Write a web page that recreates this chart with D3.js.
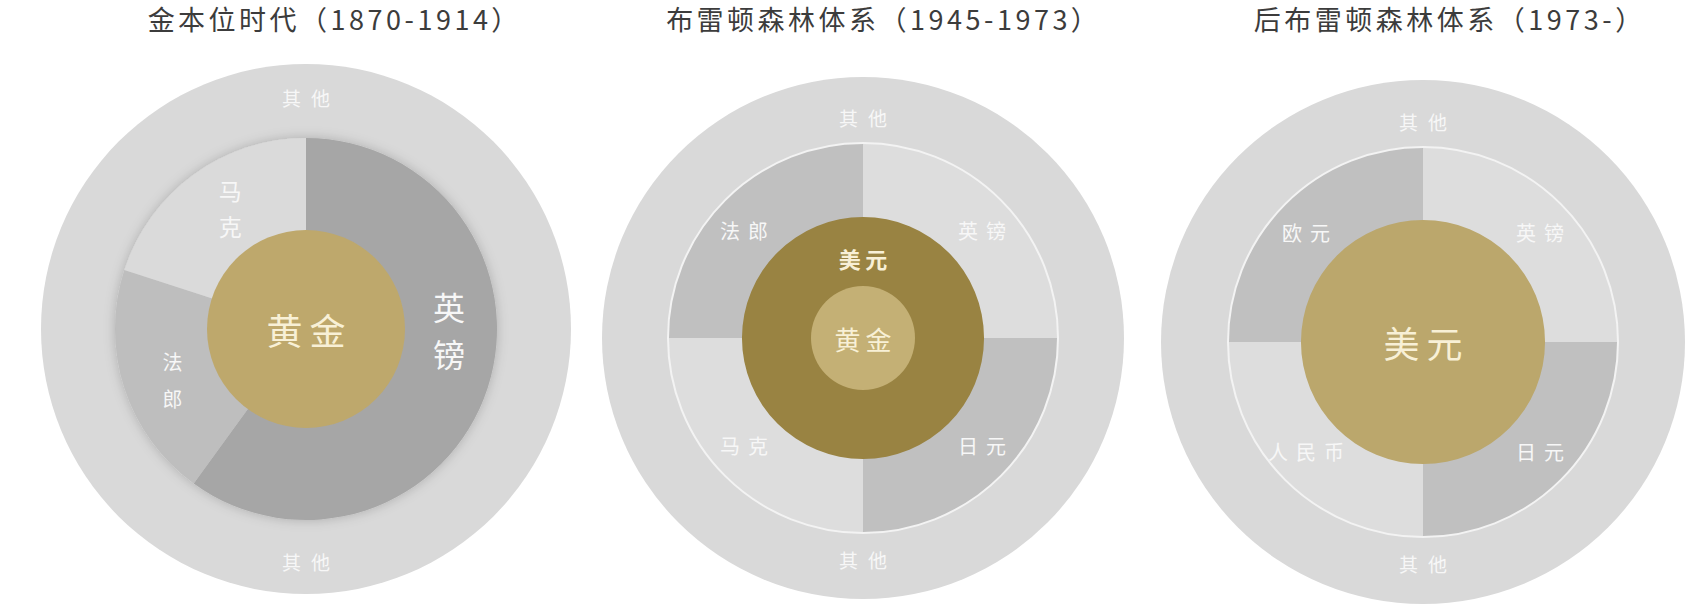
<!DOCTYPE html>
<html>
<head>
<meta charset="utf-8">
<script src="https://cdnjs.cloudflare.com/ajax/libs/d3/7.8.5/d3.min.js"></script>
<style>
  body { margin: 0; background: #fff; }
  svg { display: block; }
</style>
</head>
<body>
<div id="chart"></div>
<script>
// ---- data ----
const titles = ["金本位时代（1870-1914）", "布雷顿森林体系（1945-1973）", "后布雷顿森林体系（1973-）"];
const otherLabel = "其他";

// 金本位时代
const goldStdCore = ["黄金"];
const goldStdCurrencies = ["英镑", "法郎", "马克"];
const goldStdShares = [60, 20, 20];

// 布雷顿森林体系 (core listed inner -> outer)
const brettonCore = ["黄金", "美元"];
const brettonCurrencies = ["英镑", "日元", "马克", "法郎"];
const brettonShares = [25, 25, 25, 25];

// 后布雷顿森林体系
const postBrettonCore = ["美元"];
const postBrettonCurrencies = ["英镑", "日元", "人民币", "欧元"];
const postBrettonShares = [25, 25, 25, 25];

// ---- layout ----
const width = 1707, height = 616;
const font = "'Noto Sans CJK SC', 'Noto Sans', sans-serif";
const ringColor = "#d9d9d9";
const labelColor = "#f7f7f7";
const creamColor = "#f8f0d6";

const layouts = [
  {
    cx: 306, cy: 329, titleX: 333, outerR: 265, ringR: 191, otherR: 232,
    coreR: [99], coreColors: ["#bea86c"], coreLabelR: [0], coreSize: [36], coreWeight: [400],
    sliceColors: ["#a6a6a6", "#bebebe", "#dadada"],
    shadow: true, ringStroke: false, vertical: true, labelR: 143,
    labelAngle: { "英镑": 90, "法郎": 249, "马克": 328 },
    labelSize: { "英镑": 32, "法郎": 20, "马克": 23 },
    labelGap: { "英镑": 47, "法郎": 37, "马克": 36 }
  },
  {
    cx: 863, cy: 338, titleX: 882, outerR: 261, ringR: 195, otherR: 221,
    coreR: [52, 121], coreColors: ["#c4b075", "#998342"], coreLabelR: [0, 80], coreSize: [26, 22], coreWeight: [400, 700],
    sliceColors: ["#dddddd", "#c0c0c0", "#dddddd", "#c0c0c0"],
    shadow: false, ringStroke: true, vertical: false, labelR: 160, labelTilt: 3
  },
  {
    cx: 1423, cy: 342, titleX: 1448, outerR: 262, ringR: 195, otherR: 221,
    coreR: [122], coreColors: ["#bba76c"], coreLabelR: [0], coreSize: [36], coreWeight: [400],
    sliceColors: ["#dddddd", "#c0c0c0", "#dddddd", "#c0c0c0"],
    shadow: false, ringStroke: true, vertical: false, labelR: 160, labelTilt: 2
  }
];

const charts = [
  { title: titles[0], cores: goldStdCore, currencies: goldStdCurrencies, shares: goldStdShares },
  { title: titles[1], cores: brettonCore, currencies: brettonCurrencies, shares: brettonShares },
  { title: titles[2], cores: postBrettonCore, currencies: postBrettonCurrencies, shares: postBrettonShares }
];

const svg = d3.select("#chart").append("svg")
  .attr("width", width)
  .attr("height", height);

// soft shadow under the gold-standard pie
const filter = svg.append("defs").append("filter")
  .attr("id", "pieShadow")
  .attr("x", "-20%").attr("y", "-20%").attr("width", "140%").attr("height", "140%");
filter.append("feGaussianBlur").attr("in", "SourceAlpha").attr("stdDeviation", 6).attr("result", "blur");
filter.append("feFlood").attr("flood-color", "#000").attr("flood-opacity", 0.2);
filter.append("feComposite").attr("in2", "blur").attr("operator", "in").attr("result", "shadow");
const merge = filter.append("feMerge");
merge.append("feMergeNode").attr("in", "shadow");
merge.append("feMergeNode").attr("in", "SourceGraphic");

const deg = Math.PI / 180;

charts.forEach((c, i) => {
  const L = layouts[i];

  // Titre
  svg.append("text")
    .attr("x", L.titleX)
    .attr("y", 18)
    .attr("dx", 1.75)
    .attr("text-anchor", "middle")
    .attr("dominant-baseline", "central")
    .attr("font-family", font)
    .attr("font-size", 27)
    .attr("letter-spacing", 3.5)
    .attr("fill", "#3c3c3c")
    .text(c.title);

  const g = svg.append("g").attr("transform", `translate(${L.cx},${L.cy})`);

  // anneau extérieur "其他"
  const outerArc = d3.arc().innerRadius(0).outerRadius(L.outerR);
  g.append("path")
    .attr("d", outerArc({ startAngle: 0, endAngle: 2 * Math.PI }))
    .attr("fill", ringColor);

  const otherArc = d3.arc().innerRadius(L.otherR).outerRadius(L.otherR);
  [0, Math.PI].forEach((a) => {
    const [x, y] = otherArc.centroid({ startAngle: a - 0.01, endAngle: a + 0.01 });
    g.append("text")
      .attr("x", x).attr("y", y).attr("dx", 5)
      .attr("text-anchor", "middle")
      .attr("dominant-baseline", "central")
      .attr("font-family", font)
      .attr("font-size", 19)
      .attr("font-weight", 400)
      .attr("letter-spacing", 10)
      .attr("fill", labelColor)
      .text(otherLabel);
  });

  // secteurs des devises
  const pie = d3.pie().sort(null).value((d) => d.share);
  const slices = pie(c.currencies.map((name, k) => ({ name, share: c.shares[k] })));
  const arc = d3.arc().innerRadius(0).outerRadius(L.ringR);

  const pg = g.append("g");
  if (L.shadow) pg.attr("filter", "url(#pieShadow)");
  pg.selectAll("path")
    .data(slices)
    .join("path")
    .attr("d", arc)
    .attr("fill", (d, k) => L.sliceColors[k]);

  if (L.ringStroke) {
    g.append("circle")
      .attr("r", L.ringR)
      .attr("fill", "none")
      .attr("stroke", "#f3f3f3")
      .attr("stroke-width", 2);
  }

  // étiquettes des devises
  const labelArc = d3.arc().innerRadius(L.labelR).outerRadius(L.labelR);
  slices.forEach((d) => {
    const name = d.data.name;
    let pos;
    if (L.labelAngle && L.labelAngle[name] !== undefined) {
      const a = L.labelAngle[name] * deg;
      pos = labelArc.centroid({ startAngle: a, endAngle: a });
    } else {
      // push quadrant labels slightly toward the horizontal
      const mid = (d.startAngle + d.endAngle) / 2;
      const q = Math.floor(mid / (Math.PI / 2));
      const a = mid + ((q % 2 === 0) ? 1 : -1) * (L.labelTilt || 0) * deg;
      pos = labelArc.centroid({ startAngle: a, endAngle: a });
    }
    if (L.vertical) {
      const size = L.labelSize[name], gap = L.labelGap[name];
      const chars = Array.from(name);
      chars.forEach((ch, j) => {
        g.append("text")
          .attr("x", pos[0])
          .attr("y", pos[1] + (j - (chars.length - 1) / 2) * gap)
          .attr("text-anchor", "middle")
          .attr("dominant-baseline", "central")
          .attr("font-family", font)
          .attr("font-size", size)
          .attr("font-weight", 400)
          .attr("fill", labelColor)
          .text(ch);
      });
    } else {
      g.append("text")
        .attr("x", pos[0]).attr("y", pos[1]).attr("dx", 4)
        .attr("text-anchor", "middle")
        .attr("dominant-baseline", "central")
        .attr("font-family", font)
        .attr("font-size", 20)
        .attr("font-weight", 400)
        .attr("letter-spacing", 8)
        .attr("fill", labelColor)
        .text(name);
    }
  });

  // noyau (黄金 / 美元), du plus grand au plus petit
  const coreIdx = c.cores.map((_, k) => k).reverse();
  coreIdx.forEach((k) => {
    g.append("path")
      .attr("d", d3.arc().innerRadius(0).outerRadius(L.coreR[k])({ startAngle: 0, endAngle: 2 * Math.PI }))
      .attr("fill", L.coreColors[k]);
  });
  coreIdx.forEach((k) => {
    const r = L.coreLabelR[k];
    const [x, y] = r === 0 ? [0, 0] : d3.arc().innerRadius(r).outerRadius(r).centroid({ startAngle: -0.01, endAngle: 0.01 });
    const ls = L.coreSize[k] * 0.2;
    g.append("text")
      .attr("x", x).attr("y", y).attr("dx", ls / 2)
      .attr("text-anchor", "middle")
      .attr("dominant-baseline", "central")
      .attr("font-family", font)
      .attr("font-size", L.coreSize[k])
      .attr("font-weight", L.coreWeight[k])
      .attr("letter-spacing", ls)
      .attr("fill", creamColor)
      .text(c.cores[k]);
  });
});
</script>
</body>
</html>
